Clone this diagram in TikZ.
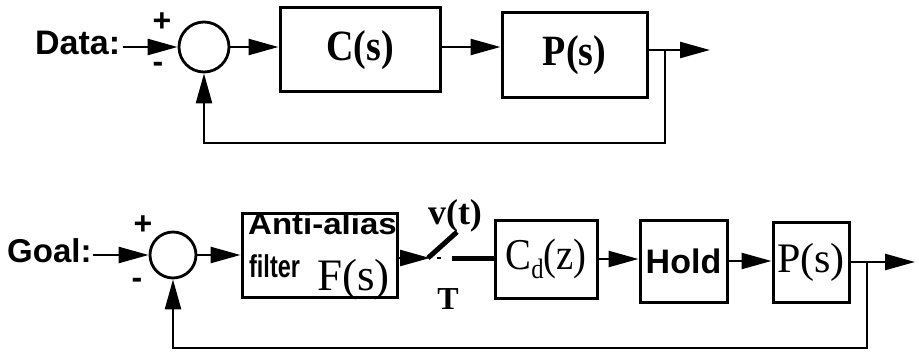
\documentclass[tikz,border=0pt]{standalone}
\usepackage{fontspec}
\setmainfont{Liberation Serif}
\setsansfont{Liberation Sans}
\usetikzlibrary{arrows.meta}
\newcommand{\fsz}[1]{\fontsize{#1}{#1}\selectfont}
\begin{document}
\begin{tikzpicture}[x=1pt,y=-1pt,
  box/.style={draw, line width=3pt, inner sep=0pt},
  sumnode/.style={draw, circle, line width=2.8pt, inner sep=0pt},
  arr/.style={line width=2.5pt, -{Triangle[length=30pt,width=16pt]}},
  thickline/.style={line width=5pt},
  lbl/.style={inner sep=0pt},
  sanslbl/.style={inner sep=0pt, font=\sffamily\bfseries},
]
\useasboundingbox (0,0) rectangle (919,353);

% ---------- top row ----------
\node[sanslbl, anchor=base west] (data) at (35,55) {\fsz{34}Data:};
\node[sumnode, minimum size=50pt] (s1) at (204,47) {};
\node[sanslbl] (p1) at (162,22) {\fsz{32}+};
\node[sanslbl] (m1) at (158,67) {\fsz{32}-};
\coordinate (din) at (123,47);
\draw[arr] (din) -- (s1.west);
\node[box, minimum width=160pt, minimum height=84pt] (C) at (360,50) {\scalebox{0.95}[1.08]{\bfseries\fsz{40}C(s)}};
\node[box, minimum width=145pt, minimum height=85pt] (P1) at (574.5,55.5) {\scalebox{0.95}[1.08]{\bfseries\fsz{40}P(s)}};
\draw[arr] (s1.east) -- (s1.east -| C.west);
\draw[arr] (C.east |- s1) -- (P1.west |- s1);
\coordinate (o1) at (710,50);
\coordinate (b1) at (665,50);
\coordinate (f1) at (204,143);
\draw[arr] (P1.east |- o1) -- (o1);
\draw[arr] (b1) |- (f1) -- (s1.south);

% ---------- bottom row ----------
\node[sanslbl, anchor=base west] (goal) at (7,262) {\fsz{33}Goal:};
\node[sumnode, minimum size=46pt] (s2) at (173,255) {};
\node[sanslbl] (p2) at (143,225) {\fsz{32}+};
\node[sanslbl] (m2) at (137,283) {\fsz{32}-};
\coordinate (gin) at (93,255);
\draw[arr] (gin) -- (s2.west);

\node[box, minimum width=155pt, minimum height=84pt] (F) at (319.5,255) {};
\node[sanslbl, anchor=base west] (fa1) at (248,234) {\scalebox{1.1}[1]{\fsz{30}Anti-alias}};
\node[sanslbl, anchor=base west] (fa2) at (249,277) {\scalebox{0.78}[1.05]{\fsz{30}filter}};
\node[lbl, anchor=base west] (fa3) at (317,290) {\fsz{45}F(s)};
\draw[arr] (s2.east) -- (s2.east -| F.west);

% sampler switch
\coordinate (sw) at (430,258);
\draw[arr] (F.east |- sw) -- (sw);
\coordinate (swa) at (428,258);
\coordinate (swb) at (457,232);
\draw[thickline] (swa) -- (swb);
\coordinate (c1) at (437,258);
\coordinate (c2) at (441,258);
\draw[line width=2.5pt] (c1) -- (c2);
\node[lbl] (vt) at (455,216) {\bfseries\fsz{36}v(t)};
\node[lbl] (T) at (448,299) {\bfseries\fsz{32}T};

\node[box, minimum width=102pt, minimum height=78pt] (Cd) at (546,259)
  {\scalebox{0.88}[1]{\fsz{44}C\raisebox{-9pt}{\fsz{28}d}(z)}};
\coordinate (c3) at (452,258);
\draw[thickline] (c3) -- (c3 -| Cd.west);

\node[box, minimum width=87pt, minimum height=82pt] (Hold) at (683.5,261) {\sffamily\bfseries\fsz{34}Hold};
\node[box, minimum width=76pt, minimum height=80pt] (P2) at (811,262) {\fsz{42}P(s)};
\draw[arr] (Cd.east) -- (Cd.east -| Hold.west);
\draw[arr] (Hold.east) -- (Hold.east -| P2.west);
\coordinate (o2) at (915,262);
\coordinate (b2) at (867,262);
\coordinate (f2) at (173,348);
\draw[arr] (P2.east |- o2) -- (o2);
\draw[arr] (b2) |- (f2) -- (s2.south);
\end{tikzpicture}
\end{document}
